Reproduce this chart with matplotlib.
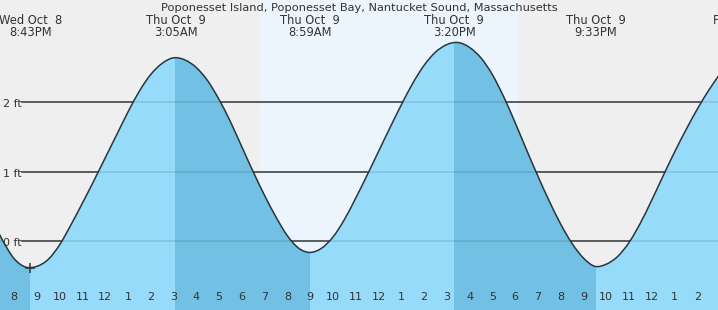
import numpy as np
import matplotlib
matplotlib.use("Agg")
import matplotlib.pyplot as plt
from matplotlib.path import Path
from matplotlib.patches import PathPatch

# --- data ---
# hours are counted from Thu Oct 9 00:00, one reading every half hour
hours = np.arange(-5.0, 27.01, 0.5)
height_ft = [
    0.33, 0.01, -0.25, -0.37, -0.36, -0.26, -0.05, 0.24, 0.55, 0.87,
    1.20, 1.53, 1.86, 2.16, 2.40, 2.56, 2.64, 2.61, 2.50, 2.31,
    2.04, 1.72, 1.36, 1.00, 0.66, 0.35, 0.08, -0.10, -0.16, -0.10,
    0.06, 0.31, 0.62, 0.95, 1.29, 1.63, 1.96, 2.27, 2.53, 2.72,
    2.83, 2.86, 2.79, 2.64, 2.40, 2.08, 1.71, 1.32, 0.94, 0.58,
    0.25, -0.03, -0.24, -0.36, -0.33, -0.22, -0.02, 0.26, 0.59, 0.94,
    1.28, 1.60, 1.90, 2.17, 2.41,
]

event_hours = [-3.283, 3.083, 8.983, 15.333, 21.55, 27.92]
event_heights = [-0.38, 2.64, -0.16, 2.86, -0.37, 2.75]
event_days = ["Wed Oct  8", "Thu Oct  9", "Thu Oct  9", "Thu Oct  9", "Thu Oct  9", "Fri Oct 10"]
event_times = ["8:43PM", "3:05AM", "8:59AM", "3:20PM", "9:33PM", "3:55AM"]
event_kinds = ["low", "high", "low", "high", "low", "high"]

sunrise, sunset = 6.80, 18.17
tick_hours = list(range(-4, 27))
grid_ft = [0, 1, 2]
title = "Poponesset Island, Poponesset Bay, Nantucket Sound, Massachusetts"

# --- layout (pixels of the 718x310 picture) ---
W, H = 718, 310
PX_HR, X_MID = 22.77, 105.2      # px per hour, x of Thu 00:00
PX_FT, Y_ZERO = 69.5, 241.3      # px per foot, y of 0 ft
xlim = (-X_MID / PX_HR, (W - X_MID) / PX_HR)
ylim = ((Y_ZERO - H) / PX_FT, Y_ZERO / PX_FT)

NIGHT = "#efefef"
DAY = "#ecf5fe"
LIGHT = "#97dbfb"
DARK = "#72c1e4"
INK = "#333333"


def smooth_path(xs, ys):
    # cubic bezier through the readings (catmull-rom handles)
    pts = np.column_stack([xs, ys])
    verts, codes = [pts[0]], [Path.MOVETO]
    n = len(pts)
    for i in range(n - 1):
        p0 = pts[max(i - 1, 0)]
        p1, p2 = pts[i], pts[i + 1]
        p3 = pts[min(i + 2, n - 1)]
        verts += [p1 + (p2 - p0) / 6, p2 - (p3 - p1) / 6, p2]
        codes += [Path.CURVE4] * 3
    return verts, codes


fig = plt.figure(figsize=(W / 100, H / 100), dpi=100)
ax = fig.add_axes([0, 0, 1, 1])
ax.set_facecolor(NIGHT)
ax.set_xlim(*xlim)
ax.set_ylim(*ylim)
for s in ax.spines.values():
    s.set_visible(False)

ax.axvspan(sunrise, sunset, color=DAY, lw=0, zorder=0)
for g in grid_ft:
    ax.axhline(g, xmin=22 / W, color=INK, lw=1.1, zorder=1)

verts, codes = smooth_path(hours, height_ft)
bottom = ylim[0] - 1
water_verts = verts + [(hours[-1], bottom), (hours[0], bottom), verts[0]]
water_codes = codes + [Path.LINETO, Path.LINETO, Path.CLOSEPOLY]
water = PathPatch(Path(water_verts, water_codes), facecolor=LIGHT, lw=0, zorder=2)
ax.add_patch(water)

# falling tide is drawn darker
bands = [(xlim[0] - 1, event_hours[0])]
for i in range(len(event_hours) - 1):
    if event_kinds[i] == "high":
        bands.append((event_hours[i], event_hours[i + 1]))
for a, b in bands:
    r = ax.axvspan(a, b, color=DARK, lw=0, zorder=2.5)
    r.set_clip_path(water)

for g in grid_ft:
    ln = ax.axhline(g, color="k", alpha=0.12, lw=1.1, zorder=3)
    ln.set_clip_path(water)

ax.add_patch(PathPatch(Path(verts, codes), facecolor="none", edgecolor=INK, lw=1.1, zorder=4))
ax.plot(event_hours[0], event_heights[0], marker="+", ms=7, mew=1.1, color=INK, zorder=5)

# hour ticks along the bottom
ax.set_xticks(tick_hours)
ax.set_yticks([])
ax.tick_params(axis="x", direction="in", length=5.8, width=0.8, color=INK, labelbottom=False)
for tk, h in zip(ax.xaxis.get_major_ticks(), tick_hours):
    if h % 24 == 0:
        tk.tick1line.set_markeredgewidth(2.4)
        tk.tick1line.set_color("#222222")
    lab = str((h % 24) % 12 or 12)
    ax.text(h, 10 / H, lab, transform=ax.get_xaxis_transform(), ha="center",
            va="baseline", fontsize=8, color=INK, zorder=6)

for g in grid_ft:
    ax.text(3 / W, g - 5 / PX_FT, f"{g} ft", transform=ax.get_yaxis_transform(),
            ha="left", va="baseline", fontsize=8, color=INK, zorder=6)

ax.text(0.5, 1 - 10.7 / H, title, transform=ax.transAxes, ha="center",
        va="baseline", fontsize=8.2, color=INK, zorder=6)
for t, d, tm in zip(event_hours, event_days, event_times):
    ax.text(t, 1 - 24.3 / H, d, transform=ax.get_xaxis_transform(), ha="center",
            va="baseline", fontsize=8.3, color=INK, zorder=6)
    if t < xlim[1]:
        ax.text(t, 1 - 36.5 / H, tm, transform=ax.get_xaxis_transform(), ha="center",
                va="baseline", fontsize=8.3, color=INK, zorder=6)

fig.savefig("out.png", dpi=100)
